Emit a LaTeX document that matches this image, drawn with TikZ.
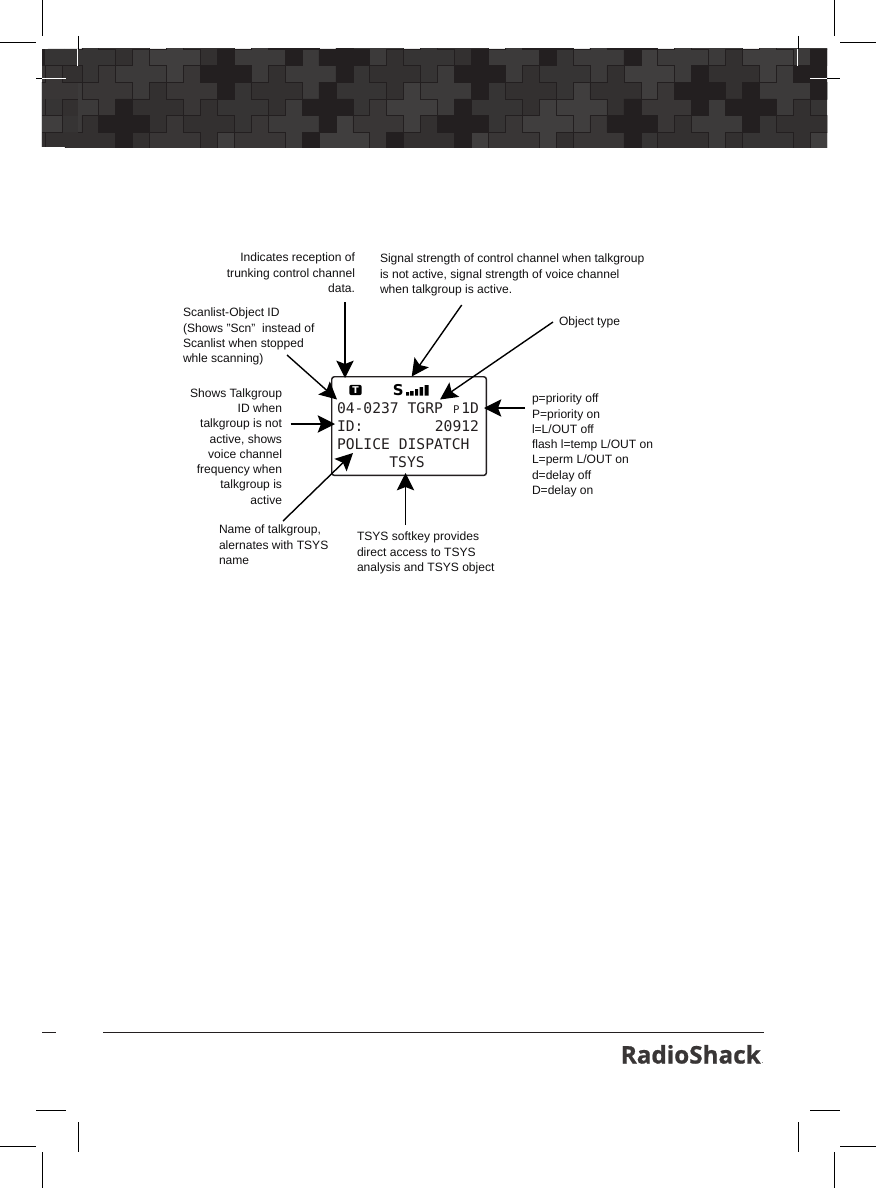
\documentclass[tikz,border=0pt]{standalone}
\usepackage{fontspec}
\setmainfont{Liberation Sans}
\newfontfamily\lcdfont{DejaVu Sans Mono}
\newfontfamily\iconfont{DejaVu Sans}
\newfontfamily\logofont[FakeBold=0.8]{Open Sans}
\usetikzlibrary{arrows.meta}
\definecolor{tk}{HTML}{231F20}
\definecolor{tla}{HTML}{403E3E}
\definecolor{tlb}{HTML}{3C3A3A}
\definecolor{tlc}{HTML}{393636}
\definecolor{tld}{HTML}{363434}
\definecolor{tle}{HTML}{333030}
\definecolor{labelink}{HTML}{111011}
\newcommand{\tileat}[3]{\begin{scope}[shift={({47.9+16.94*(#1)},{49+16.6*(#2)})},x=12.705pt,y=-12.45pt]
\filldraw[fill=#3,draw=tk,line width=.4pt] (0,-1)--(1,-1)--(1,0)--(2,0)--(2,1)--(1,1)--(1,2)--(0,2)--(0,1)--(-1,1)--(-1,0)--(0,0)--cycle;
\end{scope}}
\tikzset{
 lbl/.style={font=\fontsize{9.05pt}{11.45pt}\selectfont,text=labelink,inner sep=0pt,outer sep=0pt},
 lblr/.style={lbl,align=right,anchor=north east},
 lbll/.style={lbl,align=left,anchor=north west},
 lcd/.style={font=\lcdfont\fontsize{11pt}{13pt}\selectfont,text=tk,inner sep=0pt,outer sep=0pt,anchor=base west},
 callout/.style={draw=black,line width=1.05pt,-{Stealth[length=13pt,width=13pt,inset=2.5pt]},shorten >=0pt},
 crop/.style={draw=black,line width=.75pt},
 cropw/.style={draw=white,line width=.75pt},
}
\begin{document}
\begin{tikzpicture}[x=.75pt,y=-.75pt]
\useasboundingbox (0,0) rectangle (876,1188);
\fill[white] (0,0) rectangle (876,1188);
% mosaic band
\begin{scope}
\clip (42,49) rectangle (827,147);
\fill[tle] (42,49) rectangle (827,147);
\foreach \c/\r in {7/0,21/3,17/5,35/1,31/3,29/4,25/6,10/6,42/0,45/6} {\tileat{\c}{\r}{tla}}
\foreach \c/\r in {5/1,1/3,12/0,15/1,19/-1,23/2,14/4,27/0,32/0,37/0,39/-1,43/2,39/4,44/-1} {\tileat{\c}{\r}{tlb}}
\foreach \c/\r in {3/2,8/2,12/5,7/5,19/4,27/5,32/5,36/3} {\tileat{\c}{\r}{tlc}}
\foreach \c/\r in {2/0,11/3,18/2,22/0,30/1,26/3,35/6,42/5,46/3} {\tileat{\c}{\r}{tld}}
\foreach \c/\r in {0/1,6/3,9/4,13/2,20/1,2/5,5/6,22/5,24/-1,28/2,33/2,37/5,40/1,44/4,30/6,40/6,4/-1,9/-1} {\tileat{\c}{\r}{tle}}
\foreach \c/\r in {10/1,4/4,16/3,17/0,14/-1,15/6,20/6,24/4,25/1,29/-1,34/-1,34/4,38/2,41/3,45/1} {\tileat{\c}{\r}{tk}}
% left slab
\fill[tld] (42,49) rectangle (78,65.7);
\fill[tk] (42,49) rectangle (44.6,65.7);
\fill[tlc] (42,65.7) rectangle (78,82.3);
\fill[tle] (62,65.7) rectangle (78,82.3);
\fill[tlc] (42,82.3) rectangle (78,98.9);
\fill[tld] (42,98.9) rectangle (78,115.5);
\fill[tle] (62,98.9) rectangle (78,115.5);
\fill[tla] (42,115.5) rectangle (62,132);
\fill[tld] (62,115.5) rectangle (78,132);
\fill[tle] (42,132) rectangle (78,147);
\draw[tk,line width=.4pt] (45,65.7)--(78,65.7) (45,65.7)--(45,82.3)--(42,82.3) (62,65.7)--(62,82.3)--(78,82.3)
 (45,98.9)--(45,115.5)--(42,115.5) (62,98.9)--(78,98.9) (62,98.9)--(62,115.5)--(45,115.5) (62,115.5)--(62,132)--(42,132) (45,132)--(45,147);
\end{scope}
\fill[gray!30] (41.3,82) rectangle (42,147);
% crop marks
\draw[crop] (42.5,0)--(42.5,36);
\draw[crop] (0,42.5)--(36,42.5);
\draw[crop] (78.5,36)--(78.5,49);
\draw[cropw] (77.5,49)--(77.5,66);
\draw[crop] (36,78.5)--(42,78.5);
\draw[cropw] (42,78.5)--(66,78.5);
\draw[crop] (834.5,0)--(834.5,36);
\draw[crop] (840,42.5)--(876,42.5);
\draw[crop] (798.5,36)--(798.5,49);
\draw[cropw] (797.5,49)--(797.5,66);
\draw[cropw] (810,78.5)--(827,78.5);
\draw[crop] (827,78.5)--(840,78.5);
\draw[crop] (36,1110.5)--(66,1110.5);
\draw[crop] (78.5,1122)--(78.5,1152);
\draw[crop] (0,1146.5)--(36,1146.5);
\draw[crop] (42.5,1152)--(42.5,1188);
\draw[crop] (810,1110.5)--(840,1110.5);
\draw[crop] (798.5,1122)--(798.5,1152);
\draw[crop] (840,1146.5)--(876,1146.5);
\draw[crop] (834.5,1152)--(834.5,1188);
% footer
\draw[tk,line width=.85pt] (42,1032.5)--(56,1032.5);
\draw[tk,line width=.85pt] (103,1032.5)--(764,1032.5);
\node[inner sep=0pt,anchor=base east,text=tlc,font=\logofont\bfseries\fontsize{18.2pt}{18pt}\selectfont] (logo) at (761,1063.5) {RadioShack};
\node[inner sep=0pt,anchor=base west,text=tlc,font=\iconfont\fontsize{5pt}{5pt}\selectfont] (logodot) at (761,1063.5) {.};
% display
\node[draw=tk,line width=1.1pt,rounded corners=2pt,minimum width=116pt,minimum height=74pt,inner sep=0pt,anchor=north west] (display) at (331,376) {};
\node[fill=black,rounded corners=1.6pt,minimum width=9.3pt,minimum height=7.8pt,inner sep=0pt,text=white,font=\iconfont\bfseries\fontsize{7pt}{7pt}\selectfont] (ticon) at (355.5,390) {T};
\node[inner sep=0pt,anchor=base west,font=\iconfont\bfseries\fontsize{11.2pt}{11pt}\selectfont] (sicon) at (392.5,395.5) {S};
\fill[black] (406,392) rectangle (409,395.5) (410,391) rectangle (413.5,395.5) (415,389) rectangle (418,395.5) (419.5,387) rectangle (423,395.5) (424.5,385) rectangle (428.5,395.5);
\node[lcd] (lcda) at (337,413) {04-0237 TGRP};
\node[lcd,font=\lcdfont\fontsize{8pt}{8pt}\selectfont] (lcdp) at (453,413) {P};
\node[lcd,anchor=base east] (lcdb) at (479,413) {1D};
\node[lcd] (lcdc) at (337,431) {ID:};
\node[lcd,anchor=base east] (lcdd) at (479,431) {20912};
\node[lcd] (lcde) at (337,449) {POLICE DISPATCH};
\node[lcd,anchor=base] (lcdf) at (407,467) {TSYS};
% labels
\node[lblr] (indic) at (355,253) {Indicates reception of\\trunking control channel\\data.};
\node[lbll] (signal) at (380,254) {Signal strength of control channel when talkgroup\\is not active, signal strength of voice channel\\when talkgroup is active.};
\node[lbll] (scan) at (183,308) {Scanlist-Object ID\\(Shows "Scn"\ \ instead of\\Scanlist when stopped\\whle scanning)};
\node[lbll] (objtype) at (559,316.5) {Object type};
\node[lblr] (shows) at (282,388.5) {Shows Talkgroup\\ID when\\talkgroup is not\\active, shows\\voice channel\\frequency when\\talkgroup is\\active};
\node[lbll] (prio) at (532,394) {p=priority off\\P=priority on\\l=L/OUT off\\flash l=temp L/OUT on\\L=perm L/OUT on\\d=delay off\\D=delay on};
\node[lbll] (name) at (219,525) {Name of talkgroup,\\alernates with TSYS\\name};
\node[lbll] (softkey) at (357,532) {TSYS softkey provides\\direct access to TSYS\\analysis and TSYS object};
% arrow ends
\coordinate (aa) at (345,302); \coordinate (ab) at (345,378);
\coordinate (ba) at (461.7,305); \coordinate (bb) at (411.7,376.5);
\coordinate (ca) at (287,355); \coordinate (cb) at (337,399.5);
\coordinate (da) at (553,322); \coordinate (db) at (440,399.5);
\coordinate (ea) at (290.5,424); \coordinate (eb) at (335,424);
\coordinate (fa) at (525,408); \coordinate (fb) at (484,408);
\coordinate (ga) at (283,521); \coordinate (gb) at (353,453);
\coordinate (ha) at (405.5,525); \coordinate (hb) at (405.5,473);
\draw[callout] (aa)--(ab);
\draw[callout] (ba)--(bb);
\draw[callout] (ca)--(cb);
\draw[callout] (da)--(db);
\draw[callout] (ea)--(eb);
\draw[callout] (fa)--(fb);
\draw[callout] (ga)--(gb);
\draw[callout] (ha)--(hb);
\end{tikzpicture}
\end{document}
